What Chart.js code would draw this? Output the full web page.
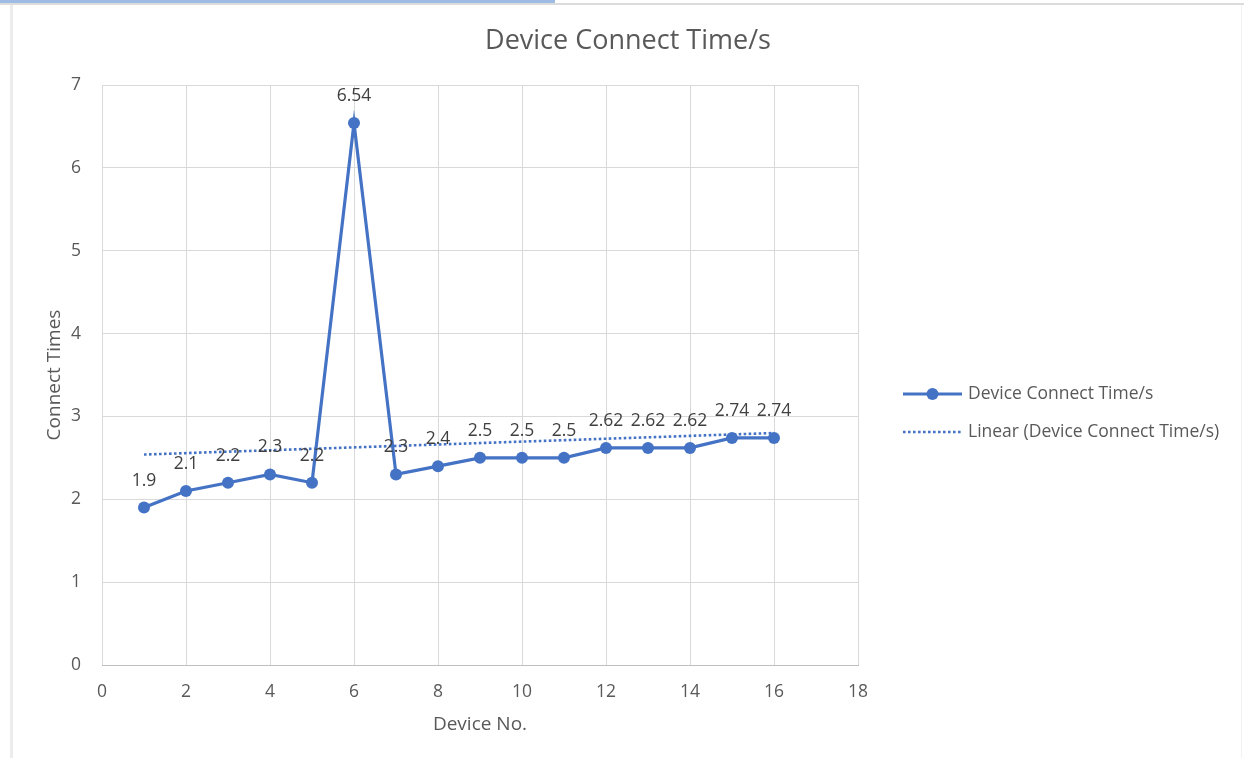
<!DOCTYPE html>
<html>
<head>
<meta charset="utf-8">
<title>Device Connect Time/s</title>
<script src="https://cdn.jsdelivr.net/npm/chart.js@4.4.1/dist/chart.umd.min.js"></script>
<style>
  html, body { margin: 0; padding: 0; background: #ffffff; }
  #wrap { position: relative; width: 1244px; height: 758px; overflow: hidden; }
  #chart { position: absolute; left: 0; top: 0; }
  .strip { position: absolute; left: 0; top: 0; width: 555px; height: 3px; background: #9dbbe3; }
  .rule { position: absolute; left: 0; top: 3px; width: 1244px; height: 2px; background: #dcdcdc; }
  .edge { position: absolute; left: 10px; top: 5px; width: 3px; height: 753px; background: #ececec; }
  .redge { position: absolute; left: 1241px; top: 5px; width: 1px; height: 753px; background: #f2f2f2; }
</style>
</head>
<body>
<div id="wrap">
  <canvas id="chart" width="1244" height="758"></canvas>
  <div class="strip"></div>
  <div class="rule"></div>
  <div class="edge"></div>
  <div class="redge"></div>
</div>
<script>
// Device numbers and their measured connect times (seconds)
const deviceNo = [1, 2, 3, 4, 5, 6, 7, 8, 9, 10, 11, 12, 13, 14, 15, 16];
const connectTime = [1.9, 2.1, 2.2, 2.3, 2.2, 6.54, 2.3, 2.4, 2.5, 2.5, 2.5, 2.62, 2.62, 2.62, 2.74, 2.74];

// Linear trend line end points
const trendX = [1, 16];
const trendY = [2.54, 2.80];

const chartTitle = 'Device Connect Time/s';
const seriesName = 'Device Connect Time/s';
const trendName = 'Linear (Device Connect Time/s)';

const BLUE = '#4472C4';
const TEXT = '#595959';
const FONT = '"Open Sans", "Noto Sans", sans-serif';

// plot-area edges on the canvas
const PLOT_LEFT = 102, PLOT_TOP = 85, PLOT_RIGHT = 858, PLOT_BOTTOM = 665;

// Chart title, centred over the whole canvas
const topTitle = {
  id: 'topTitle',
  afterDraw(chart) {
    const ctx = chart.ctx;
    ctx.save();
    ctx.font = '27px ' + FONT;
    ctx.fillStyle = TEXT;
    ctx.textAlign = 'center';
    ctx.textBaseline = 'middle';
    ctx.fillText(chartTitle, 628, 41);
    ctx.restore();
  }
};

// Value labels above each point
const pointLabels = {
  id: 'pointLabels',
  afterDatasetsDraw(chart) {
    const meta = chart.getDatasetMeta(0);
    const ctx = chart.ctx;
    ctx.save();
    ctx.font = '17.5px ' + FONT;
    ctx.fillStyle = '#404040';
    ctx.textAlign = 'center';
    ctx.textBaseline = 'middle';
    meta.data.forEach((pt, i) => {
      ctx.fillText(String(connectTime[i]), pt.x, pt.y - 27);
    });
    ctx.restore();
  }
};

// Legend on the right: line-with-marker sample and dotted trend sample
const sideLegend = {
  id: 'sideLegend',
  afterDraw(chart) {
    const ctx = chart.ctx;
    const x0 = 903, x1 = 962, tx = 968;
    const rows = [394, 432];
    ctx.save();
    // series sample
    ctx.strokeStyle = BLUE;
    ctx.lineWidth = 3.2;
    ctx.beginPath();
    ctx.moveTo(x0, rows[0]);
    ctx.lineTo(x1, rows[0]);
    ctx.stroke();
    ctx.fillStyle = BLUE;
    ctx.beginPath();
    ctx.arc((x0 + x1) / 2, rows[0], 6, 0, Math.PI * 2);
    ctx.fill();
    // trend sample
    ctx.setLineDash([2.6, 2.4]);
    ctx.lineWidth = 2.6;
    ctx.beginPath();
    ctx.moveTo(x0, rows[1]);
    ctx.lineTo(x1, rows[1]);
    ctx.stroke();
    ctx.setLineDash([]);
    // texts
    ctx.font = '17.5px ' + FONT;
    ctx.fillStyle = TEXT;
    ctx.textAlign = 'left';
    ctx.textBaseline = 'middle';
    ctx.fillText(seriesName, tx, rows[0]);
    ctx.fillText(trendName, tx, rows[1]);
    ctx.restore();
  }
};

new Chart(document.getElementById('chart'), {
  type: 'scatter',
  data: {
    datasets: [
      {
        label: seriesName,
        data: deviceNo.map((x, i) => ({ x: x, y: connectTime[i] })),
        showLine: true,
        borderColor: BLUE,
        backgroundColor: BLUE,
        borderWidth: 3.2,
        pointRadius: 6,
        pointBorderWidth: 0,
        pointHoverRadius: 6,
        order: 0
      },
      {
        label: trendName,
        data: trendX.map((x, i) => ({ x: x, y: trendY[i] })),
        showLine: true,
        borderColor: BLUE,
        borderWidth: 2.6,
        borderDash: [2.6, 2.4],
        pointRadius: 0,
        order: 1
      }
    ]
  },
  options: {
    responsive: false,
    animation: false,
    events: [],
    layout: { padding: { left: 0, right: 1244 - PLOT_RIGHT, top: PLOT_TOP, bottom: 0 } },
    plugins: {
      legend: { display: false },
      tooltip: { enabled: false },
      title: { display: false }
    },
    scales: {
      x: {
        type: 'linear',
        min: 0,
        max: 18,
        ticks: {
          stepSize: 2,
          color: TEXT,
          padding: 17,
          font: { family: FONT, size: 17.5 }
        },
        grid: { color: '#d9d9d9', lineWidth: 1, drawTicks: false },
        border: { display: true, color: '#bfbfbf', width: 1 },
        title: {
          display: true,
          text: 'Device No.',
          color: TEXT,
          font: { family: FONT, size: 19, lineHeight: 1.2 },
          padding: { top: 0, bottom: 22 }
        },
        afterFit(scale) { scale.height = 758 - PLOT_BOTTOM; }
      },
      y: {
        type: 'linear',
        min: 0,
        max: 7,
        ticks: {
          stepSize: 1,
          color: TEXT,
          padding: 21,
          font: { family: FONT, size: 17.5 }
        },
        grid: { color: '#d9d9d9', lineWidth: 1, drawTicks: false },
        border: { display: false },
        title: {
          display: true,
          text: 'Connect Times',
          color: TEXT,
          font: { family: FONT, size: 19, lineHeight: 1.2 },
          padding: { top: 43, bottom: 0 }
        },
        afterFit(scale) { scale.width = PLOT_LEFT; }
      }
    }
  },
  plugins: [pointLabels, sideLegend, topTitle]
});
</script>
</body>
</html>
